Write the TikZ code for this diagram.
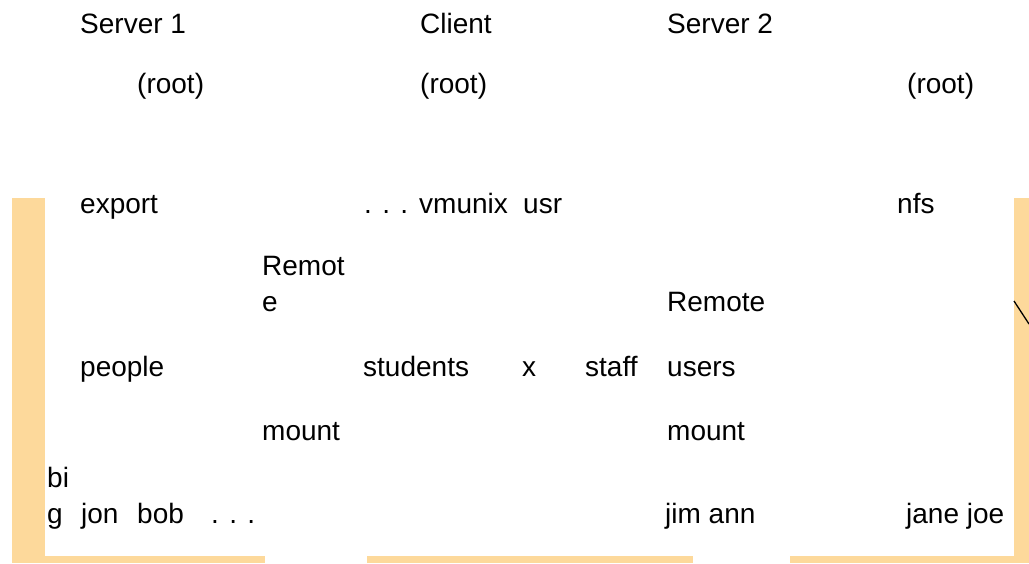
\documentclass[tikz,border=0pt]{standalone}
\usepackage{fontspec}
\setmainfont{Liberation Sans}
\definecolor{barc}{RGB}{253,217,155}
\begin{document}
\begin{tikzpicture}[x=1pt,y=-1pt,
  lbl/.style={anchor=base west, inner sep=0pt, font=\fontsize{28}{36}\selectfont, align=left},
  barbox/.style={fill=barc, draw=none}]
\useasboundingbox (0,0) rectangle (1029,563);
\fill[white] (0,0) rectangle (1029,563);
% frame bars
\fill[barbox] (12,198) rectangle (45,563);
\fill[barbox] (1014,198) rectangle (1029,563);
\fill[barbox] (12,556) rectangle (265,563);
\fill[barbox] (367,556) rectangle (693,563);
\fill[barbox] (790,556) rectangle (1029,563);
% line
\coordinate (la) at (1014,301);
\coordinate (lb) at (1029,324);
\draw[black, line width=1.3pt] (la) -- (lb);
% row 1
\node[lbl] (s1) at (80,33) {Server 1};
\node[lbl] (cl) at (420,33) {Client};
\node[lbl] (s2) at (667,33) {Server 2};
% row 2
\node[lbl] (r1) at (137,93) {(root)};
\node[lbl] (r2) at (420,93) {(root)};
\node[lbl] (r3) at (907,93) {(root)};
% row 3
\node[lbl] (exp) at (80,213) {export};
\node[lbl] (dots1) at (364,213) {. . .};
\node[lbl] (vm) at (419,213) {vmunix};
\node[lbl] (usr) at (523,213) {usr};
\node[lbl] (nfs) at (897,213) {nfs};
% remote
\node[lbl] (rem1) at (262,311) {Remot\\e};
\node[lbl] (rem2) at (667,311) {Remote};
% row 4
\node[lbl] (ppl) at (80,376) {people};
\node[lbl] (stu) at (363,376) {students};
\node[lbl] (x) at (522,376) {x};
\node[lbl] (stf) at (585,376) {staff};
\node[lbl] (usrs) at (667,376) {users};
% mount
\node[lbl] (m1) at (262,440) {mount};
\node[lbl] (m2) at (667,440) {mount};
% leaves
\node[lbl] (big) at (47,523) {bi\\g};
\node[lbl] (jon) at (81,523) {jon};
\node[lbl] (bob) at (137,523) {bob};
\node[lbl] (dots2) at (211,523) {. . .};
\node[lbl] (jim) at (665,523) {jim ann};
\node[lbl] (jane) at (906,523) {jane joe};
\end{tikzpicture}
\end{document}
